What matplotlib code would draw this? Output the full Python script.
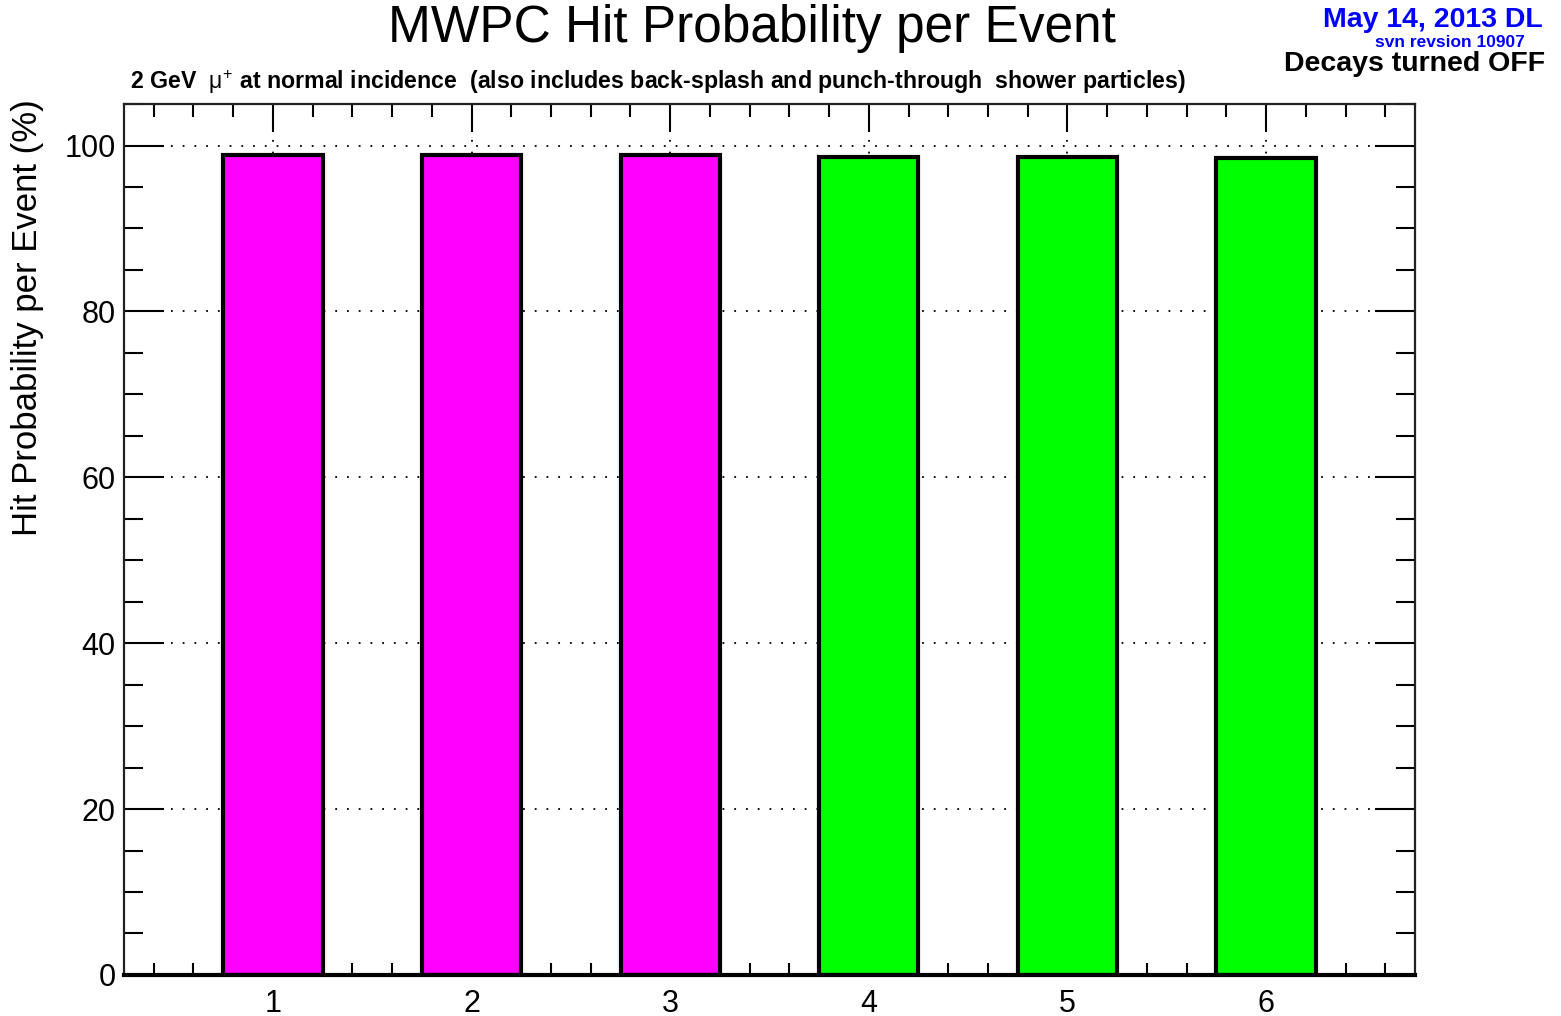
import matplotlib
matplotlib.use('Agg')
import matplotlib.pyplot as plt
from matplotlib.ticker import MultipleLocator, FixedLocator

plt.rcParams['font.family'] = ['Liberation Sans', 'DejaVu Sans']
plt.rcParams['mathtext.fontset'] = 'custom'
plt.rcParams['mathtext.rm'] = 'Liberation Sans'
plt.rcParams['mathtext.it'] = 'Liberation Sans'

# Hit probability per plane (%)
planes = [1, 2, 3, 4, 5, 6]
hit_prob = [98.8, 98.8, 98.8, 98.6, 98.6, 98.5]
bar_colors = ['#ff00ff', '#ff00ff', '#ff00ff', '#00ff00', '#00ff00', '#00ff00']

fig = plt.figure(figsize=(15.61, 10.16), dpi=100)
ax = fig.add_axes([0.0794, 0.0404, 0.8271, 0.8572])

ax.bar(planes, hit_prob, width=0.5, color=bar_colors, edgecolor='black',
       linewidth=3, zorder=3)

ax.set_xlim(0.25, 6.75)
ax.set_ylim(0, 105)

ax.xaxis.set_major_locator(FixedLocator(planes))
ax.xaxis.set_minor_locator(FixedLocator([0.4 + 0.2 * i for i in range(32)]))
ax.yaxis.set_major_locator(MultipleLocator(20))
ax.yaxis.set_minor_locator(MultipleLocator(5))

ax.tick_params(axis='both', which='both', direction='in', top=True, right=True,
               labelsize=22, colors='black')
ax.tick_params(axis='x', which='major', length=20, width=1.5, pad=10)
ax.tick_params(axis='x', which='minor', length=9, width=1.5)
ax.tick_params(axis='y', which='major', length=29, width=1.5, pad=6)
ax.tick_params(axis='y', which='minor', length=14, width=1.5)

ax.grid(True, which='major', color='black', linestyle=(0, (1, 5.5)), linewidth=1.3, zorder=1)
ax.set_axisbelow(True)

for side in ['left', 'top', 'right']:
    ax.spines[side].set_linewidth(1.6)
    ax.spines[side].set_color('#222222')
ax.spines['bottom'].set_linewidth(3)
ax.spines['bottom'].set_color('black')
ax.spines['bottom'].set_zorder(4)

ax.set_ylabel('Hit Probability per Event (%)', fontsize=25)
ax.yaxis.set_label_coords(-0.062, 0.755)

fig.text(0.482, 0.972, 'MWPC Hit Probability per Event', fontsize=37,
         ha='center', va='center')
fig.text(0.083, 0.919,
         r'2 GeV  $\mu^{+}$ at normal incidence  (also includes back-splash and punch-through  shower particles)',
         fontsize=16.7, fontweight='bold', ha='left', va='center')
fig.text(0.988, 0.980, 'May 14, 2013 DL', fontsize=20.5, fontweight='bold',
         color='#0000ff', ha='right', va='center')
fig.text(0.977, 0.958, 'svn revsion 10907', fontsize=12.5, fontweight='bold',
         color='#0000ff', ha='right', va='center')
fig.text(0.990, 0.937, 'Decays turned OFF', fontsize=20.5, fontweight='bold',
         color='black', ha='right', va='center')

fig.savefig('out.png', dpi=100)
